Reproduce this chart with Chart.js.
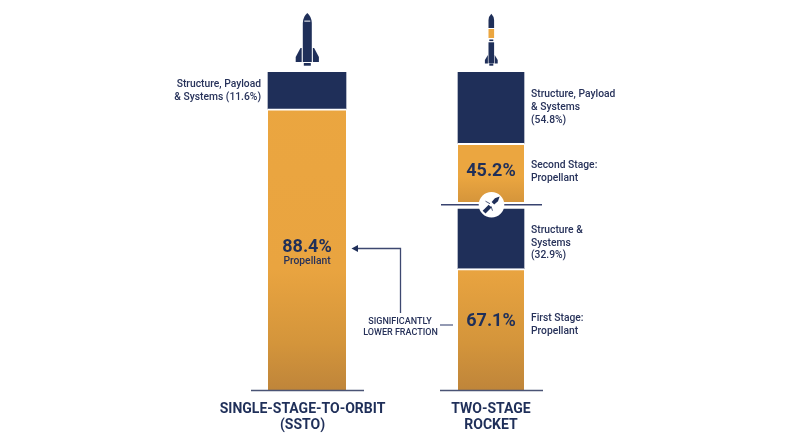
<!DOCTYPE html>
<html><head><meta charset="utf-8">
<style>html,body{margin:0;padding:0;background:#fff}canvas{display:block}</style>
<script src="https://cdn.jsdelivr.net/npm/chart.js@4"></script></head>
<body><canvas id="c" width="800" height="447"></canvas>
<script>
const categories = [["SINGLE-STAGE-TO-ORBIT","(SSTO)"],["TWO-STAGE","ROCKET"]];
const sstoPropellant = [88.4, null];
const sstoStructure = [11.6, null];
const firstStagePropellant = [null, 67.1];
const firstStageStructure = [null, 32.9];
const secondStagePropellant = [null, 45.2];
const secondStageStructure = [null, 54.8];

const NAVY='#1f2f59', TEXT='#27325a', ORANGE='#eba640', DARK='#bf853a';
const TOP=72, BOTTOM=390, H=BOTTOM-TOP, FIRST_TOP=209, SECOND_BOTTOM=202;
const SSTO_WIDTH=78, TWO_STAGE_WIDTH=66;

function orangeFill(axis){
  return function(ctx){
    const c=ctx.chart; if(!c.chartArea) return ORANGE;
    if(axis==='y2'){
      const s=c.ctx.createLinearGradient(0,145,0,SECOND_BOTTOM);
      s.addColorStop(0,ORANGE);s.addColorStop(0.55,ORANGE);s.addColorStop(1,'#d5953b');
      return s;
    }
    const g=c.ctx.createLinearGradient(0,TOP,0,BOTTOM);
    g.addColorStop(0,ORANGE);g.addColorStop(0.62,'#e9a440');g.addColorStop(0.85,'#d4953b');g.addColorStop(1,DARK);
    return g;
  };
}
function ds(label,data,axis,orange){
  return {label,data,yAxisID:axis,stack:'a',barThickness:axis==='yS'?SSTO_WIDTH:TWO_STAGE_WIDTH,
    backgroundColor:orange?orangeFill(axis):NAVY,
    borderColor:'#fff',borderWidth:orange?{top:2,left:0,right:0,bottom:0}:0,borderSkipped:false};
}
function text(ctx,s,x,y,font,color,align){
  ctx.font=font;ctx.fillStyle=color||TEXT;ctx.textAlign=align||'left';ctx.textBaseline='middle';ctx.fillText(s,x,y+0.8);
}
function lines(ctx,arr,x,y,step,align){arr.forEach((s,i)=>text(ctx,s,x,y+i*step,'500 10.3px Roboto',TEXT,align));}
function seg(ctx,x1,y1,x2,y2,w,color){ctx.strokeStyle=color||'#3d4870';ctx.lineWidth=w||1.5;ctx.beginPath();ctx.moveTo(x1,y1);ctx.lineTo(x2,y2);ctx.stroke();}

function rocketSSTO(ctx,cx){
  ctx.fillStyle=NAVY;
  ctx.beginPath();ctx.moveTo(cx,13);ctx.quadraticCurveTo(cx+4.2,16.5,cx+4.5,23);ctx.lineTo(cx+4.5,62);ctx.lineTo(cx-4.5,62);ctx.lineTo(cx-4.5,23);ctx.quadraticCurveTo(cx-4.2,16.5,cx,13);ctx.fill();
  ctx.fillStyle='#fff';ctx.fillRect(cx-3,20.6,6,1);
  ctx.fillStyle=NAVY;
  [-1,1].forEach(d=>{ctx.beginPath();ctx.moveTo(cx+d*5.6,48);ctx.lineTo(cx+d*6.8,48);ctx.lineTo(cx+d*11.6,57);ctx.lineTo(cx+d*11.6,62);ctx.lineTo(cx+d*5.6,62);ctx.fill();});
  ctx.fillRect(cx-3.5,63,7,2.7);
}
function rocketTwo(ctx,cx){
  ctx.fillStyle=NAVY;
  ctx.beginPath();ctx.moveTo(cx,13.7);ctx.quadraticCurveTo(cx+2.8,16.5,cx+2.8,20);ctx.lineTo(cx+2.8,28);ctx.lineTo(cx-2.8,28);ctx.lineTo(cx-2.8,20);ctx.quadraticCurveTo(cx-2.8,16.5,cx,13.7);ctx.fill();
  ctx.fillStyle=ORANGE;ctx.fillRect(cx-2.8,29,5.6,9);
  ctx.fillStyle=NAVY;ctx.fillRect(cx-2,39.5,4,1.6);ctx.fillRect(cx-2.8,42.3,5.6,21);
  [-1,1].forEach(d=>{ctx.beginPath();ctx.moveTo(cx+d*3.4,55);ctx.lineTo(cx+d*6.4,60);ctx.lineTo(cx+d*6.4,63.5);ctx.lineTo(cx+d*3.4,63.5);ctx.fill();});
  ctx.fillRect(cx-2,63.5,4,2.2);
}
function separation(ctx,cx,cy){
  ctx.fillStyle='#fff';ctx.beginPath();ctx.arc(cx,cy,12.8,0,Math.PI*2);ctx.fill();
  ctx.save();ctx.translate(cx,cy);ctx.rotate(-Math.PI/4);
  ctx.fillStyle=NAVY;
  ctx.beginPath();ctx.moveTo(2,-1.8);ctx.lineTo(7,-2.2);ctx.lineTo(11.5,0);ctx.lineTo(7,2.2);ctx.lineTo(2,1.8);ctx.fill();
  ctx.fillRect(-10.5,-2,8.5,4);
  ctx.restore();
  ctx.strokeStyle=NAVY;ctx.lineWidth=0.8;
  ctx.beginPath();ctx.moveTo(cx-6,cy-3.5);ctx.lineTo(cx-1.5,cy-1);ctx.moveTo(cx+1,cy+6);ctx.lineTo(cx-.5,cy+1.5);ctx.stroke();
}

const annotations={id:'annotations',
 beforeDraw(chart){
  // the SSTO caption sits slightly left of its bar in the reference
  const it=chart.scales.x.getLabelItems()[0];
  if(it&&!it.shifted){it.options.translation=[it.options.translation[0]-4.5,it.options.translation[1]];it.shifted=true;}
 },
 afterDatasetsDraw(chart){
  const ctx=chart.ctx;
  const a=chart.getDatasetMeta(0).data[0].x, b=chart.getDatasetMeta(2).data[1].x;
  ctx.save();
  seg(ctx,a-56,BOTTOM+.5,a+57,BOTTOM+.5,1.5,'#4a5475');
  seg(ctx,b-51,BOTTOM+.5,b+52,BOTTOM+.5,1.5,'#4a5475');
  seg(ctx,b-50,204.7,b+51,204.7,1.5,'#38436f');
  separation(ctx,b+.5,204.7);
  rocketSSTO(ctx,a+.3);
  rocketTwo(ctx,b+.3);
  text(ctx,sstoPropellant[0]+'%',a,246.5,'700 18px Roboto',NAVY,'center');
  text(ctx,'Propellant',a,261,'500 10.3px Roboto',TEXT,'center');
  text(ctx,secondStagePropellant[1]+'%',b,171,'700 18px Roboto',NAVY,'center');
  text(ctx,firstStagePropellant[1]+'%',b,321,'700 18px Roboto',NAVY,'center');
  lines(ctx,['Structure, Payload','& Systems ('+sstoStructure[0]+'%)'],261,84,12.7,'right');
  lines(ctx,['Structure, Payload','& Systems','('+secondStageStructure[1]+'%)'],b+40,94,12.6);
  lines(ctx,['Second Stage:','Propellant'],b+40,165,12.5);
  lines(ctx,['Structure &','Systems','('+firstStageStructure[1]+'%)'],b+40,230,12.5);
  lines(ctx,['First Stage:','Propellant'],b+40,318,12.7);
  text(ctx,'SIGNIFICANTLY',400,321,'500 9px Roboto',TEXT,'center');
  text(ctx,'LOWER FRACTION',400.5,332,'500 9px Roboto',TEXT,'center');
  seg(ctx,440,325,453,325,1.3,'#59638a');
  ctx.strokeStyle='#3d4870';ctx.lineWidth=1.3;ctx.beginPath();ctx.moveTo(400.5,313);ctx.lineTo(400.5,248.5);ctx.lineTo(356,248.5);ctx.stroke();
  ctx.fillStyle=NAVY;ctx.beginPath();ctx.moveTo(351.5,248.5);ctx.lineTo(358,245);ctx.lineTo(358,252);ctx.fill();
  ctx.restore();
}};

new Chart(document.getElementById('c'),{
  type:'bar',
  data:{labels:categories,datasets:[
    ds('SSTO propellant',sstoPropellant,'yS',true),
    ds('SSTO structure, payload & systems',sstoStructure,'yS',false),
    ds('First stage propellant',firstStagePropellant,'y1',true),
    ds('First stage structure & systems',firstStageStructure,'y1',false),
    ds('Second stage propellant',secondStagePropellant,'y2',true),
    ds('Second stage structure, payload & systems',secondStageStructure,'y2',false)
  ]},
  options:{
    responsive:false,animation:false,events:[],
    layout:{padding:{left:215,right:217,top:TOP,bottom:0}},
    plugins:{legend:{display:false},tooltip:{enabled:false}},
    scales:{
      x:{stacked:true,grid:{display:false},border:{display:false},
        afterFit(s){s.height=447-BOTTOM;},
        ticks:{color:NAVY,padding:3,maxRotation:0,font:{family:'Roboto',size:14,weight:'700',lineHeight:1.19}}},
      yS:{display:false,stacked:true,min:0,max:100},
      y1:{display:false,stacked:true,min:0,max:100*H/(BOTTOM-FIRST_TOP)},
      y2:{display:false,stacked:true,max:100,min:-100*(BOTTOM-SECOND_BOTTOM)/(SECOND_BOTTOM-TOP)}
    }
  },
  plugins:[annotations]
});
</script></body></html>
